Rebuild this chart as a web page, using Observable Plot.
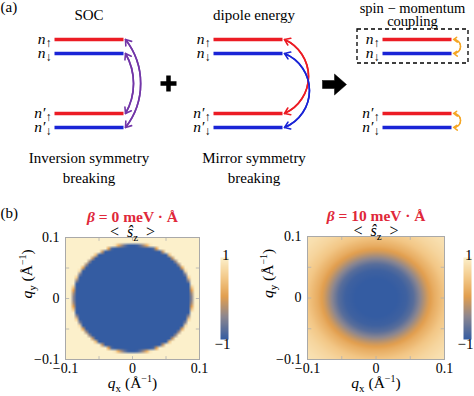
<!DOCTYPE html>
<html><head><meta charset="utf-8">
<script src="https://cdn.jsdelivr.net/npm/d3@7"></script>
<script src="https://cdn.jsdelivr.net/npm/@observablehq/plot@0.6"></script>
<style>
body{margin:0;background:#fff;}
#fig{position:relative;width:474px;height:396px;overflow:hidden;background:#fff;font-family:"Liberation Serif","DejaVu Serif",serif;}
#fig > svg{position:absolute;}
#fig text{font-family:"Liberation Serif","DejaVu Serif",serif;}
</style></head><body><div id="fig"></div>
<script>
// ---------------- data ----------------
// (a) schematic, in diagram units
const levelNames = ["n↑", "n↓", "n′↑", "n′↓"];
const levelY = [39, 53, 113, 127];
const panelTitles = ["SOC", "dipole energy"];
const panelStart = [54, 213, 382];
const lineLength = 69;
const socPairs = [[0, 3, 38], [1, 2, 30]];        // [from level, to level, bend]
const dipolePairs = [[0, 2, 66], [1, 3, 68]];
const smcPairs = [[0, 1, 90], [2, 3, 90]];
const captions = [["Inversion symmetry", "breaking"], ["Mirror symmetry", "breaking"]];
const smcTitle = ["spin − momentum", "coupling"];

// (b) <s_z> radial profiles
const leftR = [0, 0.087, 0.091, 0.15];
const leftS = [-1, -1, 1, 1];
const rightR = [0, 0.03, 0.045, 0.055, 0.065, 0.075, 0.085, 0.1, 0.115, 0.13, 0.145];
const rightS = [-1, -1, -0.93, -0.77, -0.42, -0.06, 0.2, 0.48, 0.66, 0.78, 0.86];
const axisTicks = [-0.1, 0, 0.1];
const minorTicks = [-0.1, -0.05, 0, 0.05, 0.1];
const titles = ["β = 0 meV · Å", "β = 10 meV · Å"];
const colorStops = [-1, -0.45, 0.05, 0.5, 1];
const colorRange = ["#345ca2", "#8b8690", "#e29f4f", "#f3c888", "#fcf0cb"];

// ---------------- helpers ----------------
const RED = "#ec1c24", BLUE = "#1a24d6", PURPLE = "#7236a8", ORANGE = "#f5a623";
const font = '"Liberation Serif", "DejaVu Serif", serif';
const baseStyle = {fontFamily: font, fontSize: "15px", color: "black", background: "transparent", overflow: "visible"};
const sub = (s, dy = 4, fs = 11) => `<tspan dy="${dy}" font-size="${fs}">${s}</tspan>`;
const rich = {
  "n↑": `<tspan font-style="italic">n</tspan>${sub("↑", 3, 12)}`,
  "n↓": `<tspan font-style="italic">n</tspan>${sub("↓", 3, 12)}`,
  "n′↑": `<tspan font-style="italic">n′</tspan>${sub("↑", 3, 12)}`,
  "n′↓": `<tspan font-style="italic">n′</tspan>${sub("↓", 3, 12)}`,
  "<  ŝz  >": `&lt;  <tspan font-style="italic">ŝ</tspan>${sub("z")}<tspan dy="-4">  &gt;</tspan>`,
  "qx (Å−1)": `<tspan font-style="italic">q</tspan>${sub("x")}<tspan dy="-4"> (Å</tspan><tspan dy="-6" font-size="10">−1</tspan><tspan dy="6">)</tspan>`,
  "qy (Å−1)": `<tspan font-style="italic">q</tspan>${sub("y")}<tspan dy="-4"> (Å</tspan><tspan dy="-6" font-size="10">−1</tspan><tspan dy="6">)</tspan>`,
  "β = 0 meV · Å": `<tspan font-style="italic">β</tspan> = 0 meV · Å`,
  "β = 10 meV · Å": `<tspan font-style="italic">β</tspan> = 10 meV · Å`
};
function enrich(svg) {
  svg.setAttribute("font-family", font);
  svg.querySelectorAll("text").forEach(t => {
    const k = t.textContent;
    if (rich[k]) t.innerHTML = rich[k];
  });
  return svg;
}
function place(svg, left, top) {
  svg.style.left = left + "px";
  svg.style.top = top + "px";
  document.getElementById("fig").appendChild(enrich(svg));
}

// ---------------- (a) schematic ----------------
const levels = [];
panelStart.forEach((s, p) => levelNames.forEach((n, i) => levels.push({p, i})));
const lvlColor = i => (i % 2 === 0 ? RED : BLUE);
const endX = p => panelStart[p] + lineLength + 2;

function arrowPair(pairs, p, colorFn, extra = {}) {
  const fwd = pairs.map(([a, b, bend]) => ({a, b, bend}));
  const rev = pairs.map(([a, b, bend]) => ({a: b, b: a, bend: -bend}));
  return [...fwd, ...rev].map(d => Plot.arrow([d], {
    x1: endX(p), x2: endX(p), y1: levelY[d.a], y2: levelY[d.b],
    bend: d.bend, stroke: colorFn(d), strokeWidth: 1.6, headLength: 6, headAngle: 70, ...extra
  }));
}

const blockArrow = [[322, 80], [334, 80], [334, 73.5], [346, 84], [334, 94.5], [334, 88], [322, 88], [322, 80]];
const plusSign = [[[160, 83], [176, 83]], [[168, 75], [168, 91]]];
const box = [{x1: 357, x2: 468, y1: 29, y2: 63}];

const topPlot = Plot.plot({
  width: 474, height: 195, margin: 0,
  x: {domain: [0, 474], axis: null},
  y: {domain: [0, 195], range: [0, 195], axis: null},
  color: {type: "identity"},
  style: baseStyle,
  marks: [
    Plot.link(levels, {x1: d => panelStart[d.p], x2: d => panelStart[d.p] + lineLength,
      y1: d => levelY[d.i], y2: d => levelY[d.i], stroke: d => lvlColor(d.i), strokeWidth: 3.6}),
    Plot.text(levels, {x: d => panelStart[d.p] - 3, y: d => levelY[d.i], text: d => levelNames[d.i],
      textAnchor: "end", fontSize: 15.5, fontFamily: font}),
    ...arrowPair(socPairs, 0, () => PURPLE),
    ...arrowPair(dipolePairs, 1, d => lvlColor(Math.min(d.a, d.b))),
    ...arrowPair(smcPairs, 2, () => ORANGE, {strokeDasharray: "3,2.5", strokeWidth: 1.5, headLength: 5}),
    Plot.rect(box, {x1: "x1", x2: "x2", y1: "y1", y2: "y2", fill: "none", stroke: "black",
      strokeWidth: 1.3, strokeDasharray: "4,3"}),
    Plot.line(blockArrow, {x: d => d[0], y: d => d[1], fill: "black", stroke: "black", strokeWidth: 0.5}),
    Plot.link(plusSign, {x1: d => d[0][0], y1: d => d[0][1], x2: d => d[1][0], y2: d => d[1][1],
      stroke: "black", strokeWidth: 4.5}),
    Plot.text(["(a)"], {x: 0, y: 7, text: d => d, textAnchor: "start", fontSize: 15, fontFamily: font}),
    Plot.text(panelTitles, {x: (d, i) => panelStart[i] + lineLength / 2 + [0, 6][i], y: 15, text: d => d,
      fontSize: 15, fontFamily: font}),
    Plot.text(smcTitle, {x: 412, y: (d, i) => [8, 21][i], text: d => d, fontSize: 14.5, fontFamily: font}),
    Plot.text(captions.flatMap((c, p) => c.map((t, k) => ({t, p, k}))), {
      x: d => panelStart[d.p] + lineLength / 2 + (d.p === 0 ? 0 : 6), y: d => [158, 178][d.k], text: d => d.t,
      fontSize: 15, fontFamily: font})
  ]
});
place(topPlot, 0, 0);

// ---------------- (b) maps ----------------
const fmt = d => (d === 0 ? "0" : d3.format(".1f")(d));
const colorScale = {type: "linear", domain: colorStops, range: colorRange};
function heatmap({R, S, title, rw, rh, marginLeft, marginRight, marginTop, labelDx, panelLabel}) {
  const prof = d3.scaleLinear().domain(R).range(S).clamp(true);
  const edgeTicks = [];
  minorTicks.forEach(t => {
    edgeTicks.push([t, -0.1, t, -0.0945], [t, 0.1, t, 0.0945], [-0.1, t, -0.0945, t], [0.1, t, 0.0945, t]);
  });
  const marks = [
    Plot.raster({fill: (x, y) => prof(Math.hypot(x, y)), x1: -0.1, x2: 0.1, y1: -0.1, y2: 0.1,
      ...(rw ? {width: rw, height: rh} : {}), imageRendering: "auto"}),
    Plot.link(edgeTicks, {x1: d => d[0], y1: d => d[1], x2: d => d[2], y2: d => d[3], stroke: "#b0b0b0", strokeWidth: 0.8}),
    Plot.frame({stroke: "#a9a9a9"}),
    Plot.axisX({ticks: axisTicks, tickFormat: fmt, tickSize: 0, tickPadding: 4, fontSize: 14, fontFamily: font, label: null}),
    Plot.axisY({ticks: axisTicks, tickFormat: fmt, tickSize: 0, tickPadding: 6, fontSize: 14, fontFamily: font, label: null}),
    Plot.text([title], {frameAnchor: "top", dy: -27, text: d => d, fill: "#e0283a", fontWeight: "bold", fontSize: 15.5, fontFamily: font}),
    Plot.text(["<  ŝz  >"], {frameAnchor: "top", dy: -12, text: d => d, fontSize: 16, fontFamily: font}),
    Plot.text(["qx (Å−1)"], {frameAnchor: "bottom", dy: 28, text: d => d, fontSize: 15.5, fontFamily: font}),
    Plot.text(["qy (Å−1)"], {frameAnchor: "left", dx: labelDx, rotate: -90, text: d => d, fontSize: 15.5, fontFamily: font})
  ];
  if (panelLabel) marks.push(Plot.text([panelLabel], {frameAnchor: "top-left", dx: -marginLeft, dy: -30, textAnchor: "start", text: d => d, fontSize: 15, fontFamily: font}));
  return Plot.plot({
    width: 215, height: 201, marginLeft, marginRight, marginTop, marginBottom: 37,
    x: {domain: [-0.1, 0.1]}, y: {domain: [-0.1, 0.1]},
    color: colorScale, style: baseStyle, marks
  });
}
function colorbar({width, marginLeft, marginRight}) {
  return Plot.plot({
    width, height: 201, marginLeft, marginRight, marginTop: 62, marginBottom: 57,
    x: {domain: [0, 1], axis: null}, y: {domain: [-1, 1], axis: null},
    color: colorScale, style: baseStyle,
    marks: [
      Plot.raster({fill: (x, y) => y, x1: 0, x2: 1, y1: -1, y2: 1}),
      Plot.text(["1"], {frameAnchor: "top-right", dx: 1, dy: -8, textAnchor: "end", text: d => d, fontSize: 15, fontFamily: font}),
      Plot.text(["−1"], {frameAnchor: "bottom-right", dx: 2, dy: 9, textAnchor: "end", text: d => d, fontSize: 15, fontFamily: font})
    ]
  });
}

place(heatmap({R: leftR, S: leftS, title: titles[0], rw: 42, rh: 38, marginLeft: 65, marginRight: 16, marginTop: 42, labelDx: -38, panelLabel: "(b)"}), 0, 195);
place(colorbar({width: 28, marginLeft: 8, marginRight: 12}), 212, 195);
place(heatmap({R: rightR, S: rightS, title: titles[1], marginLeft: 67, marginRight: 11, marginTop: 41, labelDx: -39}), 240, 195);
place(colorbar({width: 19, marginLeft: 8, marginRight: 3}), 455, 195);
</script>
</body></html>
